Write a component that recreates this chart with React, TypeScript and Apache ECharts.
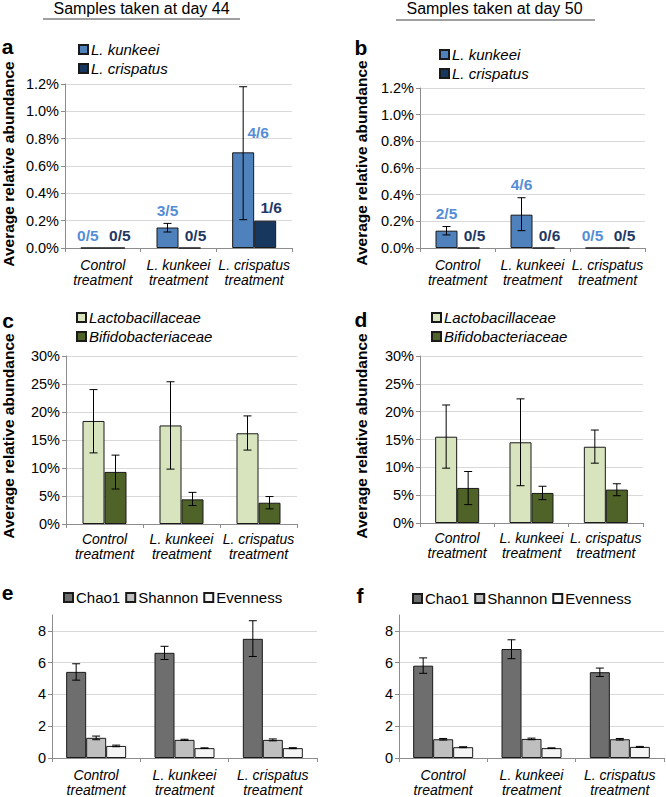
import React, { useEffect, useRef } from "react";
import * as echarts from "echarts";

const FONT = "'Liberation Sans', Arial, sans-serif";

const categories = ["Control\ntreatment", "L. kunkeei\ntreatment", "L. crispatus\ntreatment"];

// Panel a – day 44 (%)
const kunkeei44 = [0, 0.15, 0.7];
const kunkeei44Lo = [null, 0.117, 0.207];
const kunkeei44Hi = [null, 0.18, 1.18];
const crispatus44 = [0, 0, 0.2];
const kunkeei44Frac = ["0/5", "3/5", "4/6"];
const crispatus44Frac = ["0/5", "0/5", "1/6"];

// Panel b – day 50 (%)
const kunkeei50 = [0.13, 0.25, 0];
const kunkeei50Lo = [0.098, 0.13, null];
const kunkeei50Hi = [0.161, 0.377, null];
const crispatus50 = [0, 0, 0];
const kunkeei50Frac = ["2/5", "4/6", "0/5"];
const crispatus50Frac = ["0/5", "0/6", "0/5"];

// Panel c – day 44 families (%)
const lacto44 = [18.4, 17.6, 16.2];
const lacto44Lo = [12.7, 9.8, 13.2];
const lacto44Hi = [24.0, 25.4, 19.3];
const bifido44 = [9.3, 4.4, 3.8];
const bifido44Lo = [6.25, 3.3, 2.7];
const bifido44Hi = [12.3, 5.65, 4.9];

// Panel d – day 50 families (%)
const lacto50 = [15.5, 14.5, 13.7];
const lacto50Lo = [9.85, 6.7, 10.75];
const lacto50Hi = [21.2, 22.3, 16.7];
const bifido50 = [6.3, 5.4, 6.0];
const bifido50Lo = [3.3, 4.2, 4.9];
const bifido50Hi = [9.25, 6.6, 7.05];

// Panel e – day 44 diversity
const chao44 = [5.42, 6.62, 7.5];
const chao44Lo = [4.9, 6.2, 6.39];
const chao44Hi = [5.93, 7.03, 8.64];
const shannon44 = [1.27, 1.14, 1.14];
const shannon44Lo = [1.15, 1.1, 1.08];
const shannon44Hi = [1.38, 1.18, 1.2];
const even44 = [0.76, 0.62, 0.62];
const even44Lo = [0.71, 0.6, 0.59];
const even44Hi = [0.81, 0.64, 0.65];

// Panel f – day 50 diversity
const chao50 = [5.81, 6.86, 5.4];
const chao50Lo = [5.33, 6.25, 5.13];
const chao50Hi = [6.3, 7.44, 5.66];
const shannon50 = [1.18, 1.2, 1.18];
const shannon50Lo = [1.13, 1.15, 1.13];
const shannon50Hi = [1.23, 1.25, 1.23];
const even50 = [0.68, 0.62, 0.7];
const even50Lo = [0.65, 0.6, 0.67];
const even50Hi = [0.71, 0.64, 0.73];

const pctTicks1 = (v: number) => v.toFixed(1) + "%";
const pctTicks0 = (v: number) => Math.round(v) + "%";

const C_KUN = "#4f81bd";
const C_CRI = "#17375e";
const T_KUN = "#558ed5";
const T_CRI = "#1f3864";
const C_LAC = "#d7e4bd";
const C_BIF = "#4f6228";
const C_CHAO = "#6e6e6e";
const C_SHAN = "#bfbfbf";
const C_EVEN = "#f4f4f4";

const AXIS_C = "#8c8c8c";

function xAx(gridIndex: number, margin: number) {
  return {
    type: "category",
    gridIndex,
    data: categories,
    axisLine: { lineStyle: { color: AXIS_C } },
    axisTick: { show: true, length: 4, lineStyle: { color: AXIS_C } },
    axisLabel: {
      interval: 0,
      fontFamily: FONT,
      fontStyle: "italic",
      fontSize: 14,
      lineHeight: 15,
      color: "#000",
      margin,
    },
  };
}

function yAx(gridIndex: number, max: number, interval: number, formatter: any, hideMax = false) {
  return {
    type: "value",
    gridIndex,
    min: 0,
    max,
    interval,
    axisLine: { show: true, lineStyle: { color: AXIS_C } },
    axisTick: { show: true, length: 4, lineStyle: { color: AXIS_C } },
    splitLine: { show: true, showMaxLine: !hideMax, lineStyle: { color: "#d9d9d9" } },
    axisLabel: {
      fontFamily: FONT,
      fontSize: 14.5,
      color: "#000",
      margin: 6,
      formatter,
      showMaxLabel: !hideMax,
    },
  };
}

function barS(name: string, gi: number, data: number[], color: string, barWidth: number) {
  return {
    type: "bar",
    name,
    xAxisIndex: gi,
    yAxisIndex: gi,
    data,
    barWidth,
    barGap: "0%",
    itemStyle: { color, borderColor: "#1a1a1a", borderWidth: 1 },
    emphasis: { disabled: true },
  };
}

function overlayS(
  gi: number,
  pos: number,
  n: number,
  barW: number,
  values: number[],
  lo: (number | null)[] | null,
  hi: (number | null)[] | null,
  fracs: string[] | null,
  fracColor: string,
  sideIndex: number = -1
) {
  return {
    type: "custom",
    xAxisIndex: gi,
    yAxisIndex: gi,
    data: values.map((v, i) => [i, v]),
    encode: { x: 0, y: 1 },
    z: 10,
    clip: false,
    silent: true,
    renderItem: (params: any, api: any) => {
      const i = params.dataIndex;
      const v = values[i];
      const base = api.coord([i, v]);
      const x = base[0] + (pos - (n - 1) / 2) * barW;
      const children: any[] = [];
      const l = lo ? lo[i] : null;
      const h = hi ? hi[i] : null;
      if (l != null && h != null) {
        const pl = api.coord([i, l]);
        const ph = api.coord([i, h]);
        const cap = 4;
        const st = { stroke: "#000", lineWidth: 1 };
        children.push({ type: "line", shape: { x1: x, y1: pl[1], x2: x, y2: ph[1] }, style: st });
        children.push({ type: "line", shape: { x1: x - cap, y1: pl[1], x2: x + cap, y2: pl[1] }, style: st });
        children.push({ type: "line", shape: { x1: x - cap, y1: ph[1], x2: x + cap, y2: ph[1] }, style: st });
      }
      if (fracs) {
        let tx = x;
        let ty: number;
        if (i === sideIndex) {
          tx = x + 15;
          ty = base[1] - 20;
        } else {
          const top = h != null ? h : v;
          ty = api.coord([i, top])[1] - 13;
          if (pos === 1) tx += 6;
          else if (v === 0) tx -= 4;
        }
        children.push({
          type: "text",
          x: tx,
          y: ty,
          style: {
            text: fracs[i],
            fill: fracColor,
            fontSize: 15.5,
            fontWeight: "bold",
            fontFamily: FONT,
            align: "center",
            verticalAlign: "middle",
          },
        });
      }
      return { type: "group", children };
    },
  };
}

function legendV(left: number, top: number, names: string[], italic: boolean) {
  return {
    orient: "vertical",
    left,
    top,
    padding: 0,
    itemWidth: 9,
    itemHeight: 9,
    itemGap: 4,
    icon: "rect",
    selectedMode: false,
    data: names,
    textStyle: { fontFamily: FONT, fontSize: 15, fontStyle: italic ? "italic" : "normal", color: "#000", padding: [0, 0, 0, -2] },
  };
}

function legendH(left: number, top: number, names: string[]) {
  return {
    orient: "horizontal",
    left,
    top,
    padding: 0,
    itemWidth: 9,
    itemHeight: 9,
    itemGap: 5,
    icon: "rect",
    selectedMode: false,
    data: names,
    textStyle: { fontFamily: FONT, fontSize: 15, color: "#000", padding: [0, 0, 0, -2] },
  };
}

function yName(x: number, y: number) {
  return {
    type: "text",
    x,
    y,
    rotation: Math.PI / 2,
    style: {
      text: "Average relative abundance",
      fontSize: 15.5,
      fontWeight: "bold",
      fontFamily: FONT,
      fill: "#000",
      align: "center",
      verticalAlign: "middle",
    },
  };
}

function letter(t: string, x: number, y: number) {
  return {
    type: "text",
    x,
    y,
    style: { text: t, fontSize: 21, fontWeight: "bold", fontFamily: FONT, fill: "#000", align: "center", verticalAlign: "middle" },
  };
}

export default function App() {
  const ref = useRef<HTMLDivElement>(null);
  useEffect(() => {
    if (!ref.current) return;
    const chart = echarts.init(ref.current, undefined, { renderer: "svg" });
    const option: any = {
      animation: false,
      textStyle: { fontFamily: FONT },
      grid: [
        { left: 65, top: 84, width: 227, height: 164 },
        { left: 420, top: 88, width: 225, height: 160 },
        { left: 66, top: 356, width: 231, height: 168 },
        { left: 420, top: 356, width: 223, height: 167 },
        { left: 52, top: 615, width: 265, height: 145 },
        { left: 399, top: 615, width: 265, height: 145 },
      ],
      xAxis: [xAx(0, 9), xAx(1, 9), xAx(2, 7), xAx(3, 7), xAx(4, 9), xAx(5, 9)],
      yAxis: [
        yAx(0, 1.2, 0.2, pctTicks1),
        yAx(1, 1.2, 0.2, pctTicks1),
        yAx(2, 30, 5, pctTicks0),
        yAx(3, 30, 5, pctTicks0),
        yAx(4, 9, 2, (v: number) => String(v), true),
        yAx(5, 9, 2, (v: number) => String(v), true),
      ],
      legend: [
        legendV(78, 42, ["L. kunkeei", "L. crispatus"], true),
        legendV(439, 47, ["L. kunkeei", "L. crispatus"], true),
        legendV(76, 310, ["Lactobacillaceae", "Bifidobacteriaceae"], true),
        legendV(431, 310, ["Lactobacillaceae", "Bifidobacteriaceae"], true),
        legendH(63, 590, ["Chao1", "Shannon", "Evenness"]),
        legendH(412, 591, ["Chao1", "Shannon", "Evenness"]),
      ],
      series: [
        barS("L. kunkeei", 0, kunkeei44, C_KUN, 22),
        barS("L. crispatus", 0, crispatus44, C_CRI, 22),
        overlayS(0, 0, 2, 22, kunkeei44, kunkeei44Lo, kunkeei44Hi, kunkeei44Frac, T_KUN, 2),
        overlayS(0, 1, 2, 22, crispatus44, null, null, crispatus44Frac, T_CRI),

        barS("L. kunkeei", 1, kunkeei50, C_KUN, 22),
        barS("L. crispatus", 1, crispatus50, C_CRI, 22),
        overlayS(1, 0, 2, 22, kunkeei50, kunkeei50Lo, kunkeei50Hi, kunkeei50Frac, T_KUN),
        overlayS(1, 1, 2, 22, crispatus50, null, null, crispatus50Frac, T_CRI),

        barS("Lactobacillaceae", 2, lacto44, C_LAC, 22),
        barS("Bifidobacteriaceae", 2, bifido44, C_BIF, 22),
        overlayS(2, 0, 2, 22, lacto44, lacto44Lo, lacto44Hi, null, ""),
        overlayS(2, 1, 2, 22, bifido44, bifido44Lo, bifido44Hi, null, ""),

        barS("Lactobacillaceae", 3, lacto50, C_LAC, 22),
        barS("Bifidobacteriaceae", 3, bifido50, C_BIF, 22),
        overlayS(3, 0, 2, 22, lacto50, lacto50Lo, lacto50Hi, null, ""),
        overlayS(3, 1, 2, 22, bifido50, bifido50Lo, bifido50Hi, null, ""),

        barS("Chao1", 4, chao44, C_CHAO, 20),
        barS("Shannon", 4, shannon44, C_SHAN, 20),
        barS("Evenness", 4, even44, C_EVEN, 20),
        overlayS(4, 0, 3, 20, chao44, chao44Lo, chao44Hi, null, ""),
        overlayS(4, 1, 3, 20, shannon44, shannon44Lo, shannon44Hi, null, ""),
        overlayS(4, 2, 3, 20, even44, even44Lo, even44Hi, null, ""),

        barS("Chao1", 5, chao50, C_CHAO, 20),
        barS("Shannon", 5, shannon50, C_SHAN, 20),
        barS("Evenness", 5, even50, C_EVEN, 20),
        overlayS(5, 0, 3, 20, chao50, chao50Lo, chao50Hi, null, ""),
        overlayS(5, 1, 3, 20, shannon50, shannon50Lo, shannon50Hi, null, ""),
        overlayS(5, 2, 3, 20, even50, even50Lo, even50Hi, null, ""),
      ],
      graphic: [
        {
          type: "text",
          x: 141.5,
          y: 8,
          style: { text: "Samples taken at day 44", fontSize: 16, fontFamily: FONT, fill: "#000", align: "center", verticalAlign: "middle" },
        },
        { type: "line", shape: { x1: 43, y1: 19, x2: 240, y2: 19 }, style: { stroke: "#808080", lineWidth: 1.5 } },
        {
          type: "text",
          x: 494.5,
          y: 8,
          style: { text: "Samples taken at day 50", fontSize: 16, fontFamily: FONT, fill: "#000", align: "center", verticalAlign: "middle" },
        },
        { type: "line", shape: { x1: 396, y1: 20, x2: 595, y2: 20 }, style: { stroke: "#808080", lineWidth: 1.5 } },
        yName(8, 164),
        yName(361, 163),
        yName(8, 436),
        yName(361, 436),
        letter("a", 7.5, 46),
        letter("b", 361, 47.5),
        letter("c", 8, 320.5),
        letter("d", 361, 319.5),
        letter("e", 7.5, 592.5),
        letter("f", 360, 595.5),
      ],
    };
    chart.setOption(option);
    return () => chart.dispose();
  }, []);
  return <div ref={ref} style={{ position: "absolute", left: 0, top: 0, width: 666, height: 797, background: "#fff" }} />;
}
